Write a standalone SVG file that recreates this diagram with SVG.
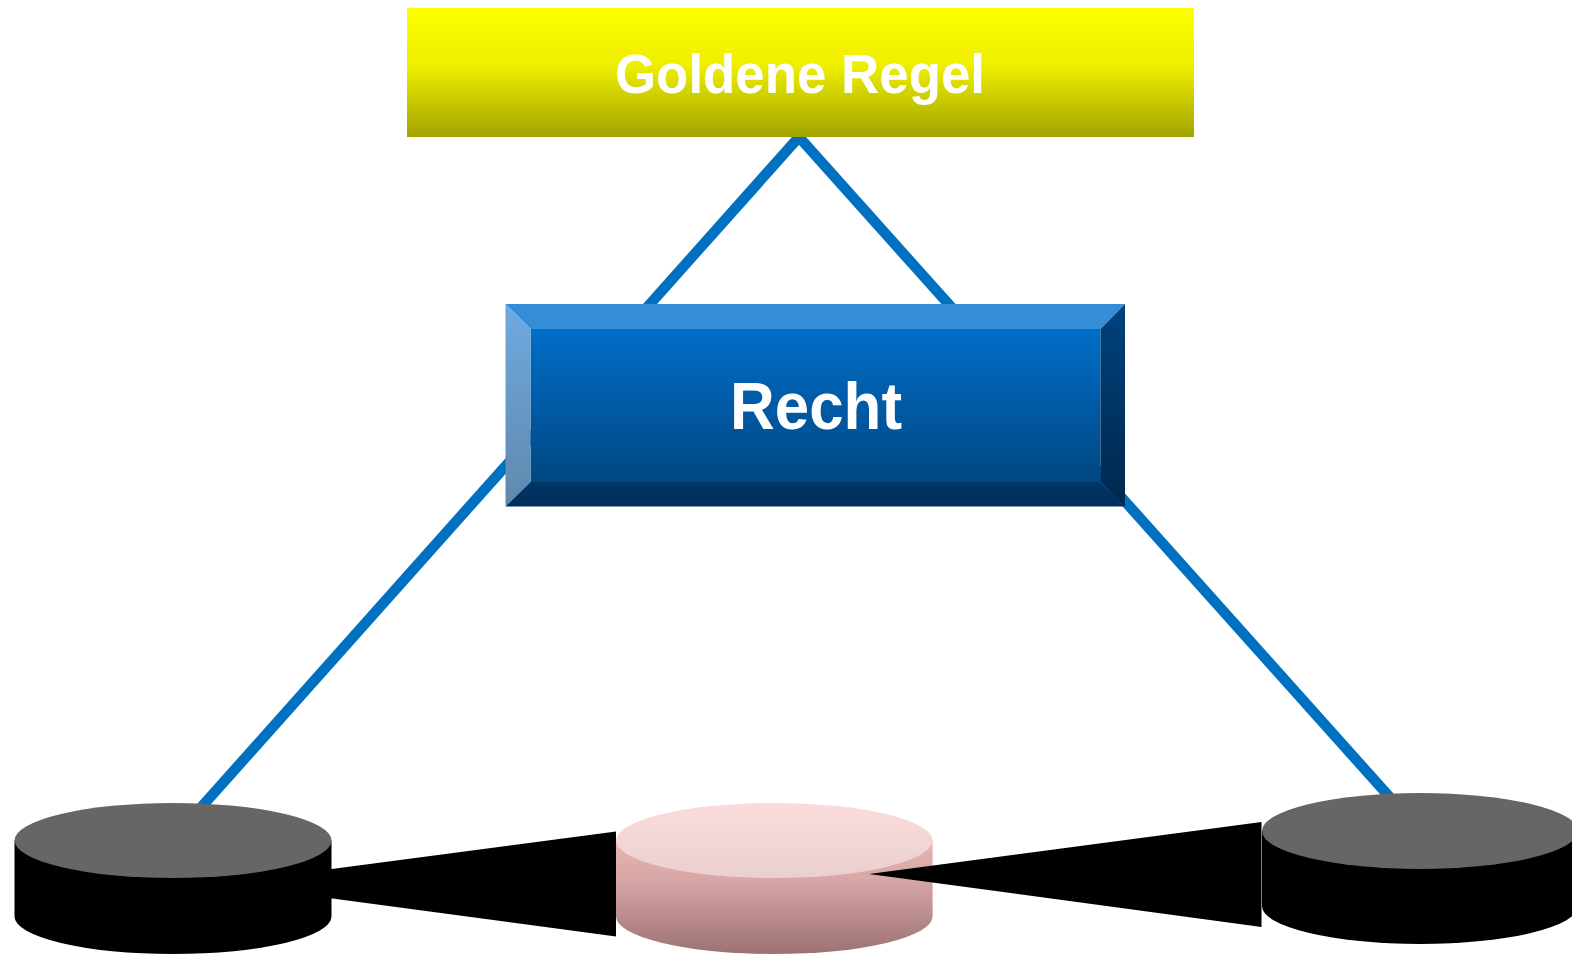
<svg xmlns="http://www.w3.org/2000/svg" width="1572" height="954" viewBox="0 0 1572 954">
<defs>
<style>
.lbl{font-family:"Liberation Sans",Arial,Helvetica,sans-serif;font-weight:bold;fill:#FFFFFF;text-anchor:middle}
.link{stroke:#0070C0;stroke-width:10.5;fill:none}
.wedge{fill:#000000}
.gtop{fill:#666666}
.gbody{fill:#000000}
</style>
<linearGradient id="gYellow" x1="0" y1="0" x2="0" y2="1">
<stop offset="0" stop-color="#FFFF00"/>
<stop offset="0.45" stop-color="#EEEE00"/>
<stop offset="1" stop-color="#A3A300"/>
</linearGradient>
<linearGradient id="gFace" x1="0" y1="0" x2="0" y2="1">
<stop offset="0" stop-color="#006EC8"/>
<stop offset="1" stop-color="#004783"/>
</linearGradient>
<linearGradient id="gLeft" x1="0" y1="0" x2="0" y2="1">
<stop offset="0" stop-color="#6EAAE0"/>
<stop offset="1" stop-color="#6088AC"/>
</linearGradient>
<linearGradient id="gRight" x1="0" y1="0" x2="0" y2="1">
<stop offset="0" stop-color="#00427C"/>
<stop offset="1" stop-color="#00284E"/>
</linearGradient>
<linearGradient id="gBottom" x1="0" y1="0" x2="0" y2="1">
<stop offset="0" stop-color="#003669"/>
<stop offset="1" stop-color="#002D59"/>
</linearGradient>
<linearGradient id="gPinkTop" x1="0" y1="0" x2="0" y2="1">
<stop offset="0" stop-color="#FBDCDC"/>
<stop offset="1" stop-color="#EBCFCF"/>
</linearGradient>
<linearGradient id="gPinkBody" gradientUnits="userSpaceOnUse" x1="0" y1="840" x2="0" y2="954">
<stop offset="0" stop-color="#E8B4B4"/>
<stop offset="0.35" stop-color="#D8A6A6"/>
<stop offset="1" stop-color="#9C7272"/>
</linearGradient>
</defs>

<g id="node-mid-cylinder">
<path d="M616,840.5 V916.5 A158.3,37.5 0 0 0 932.6,916.5 V840.5 Z" fill="url(#gPinkBody)"/>
<ellipse cx="774.3" cy="840.5" rx="158.3" ry="37.5" fill="url(#gPinkTop)"/>
</g>

<g id="connectors">
<line class="link" x1="799" y1="137" x2="172" y2="840"/>
<line class="link" x1="799" y1="137" x2="1420" y2="831"/>
<polygon class="wedge" points="221,883.5 616,831.5 616,936.5"/>
<polygon class="wedge" points="869,874 1261.5,822 1261.5,927"/>
</g>

<g id="node-goldene-regel">
<rect x="407" y="8" width="787" height="129" fill="url(#gYellow)"/>
<text class="lbl" x="800" y="92.5" font-size="56" textLength="370" lengthAdjust="spacingAndGlyphs">Goldene Regel</text>
</g>

<g id="node-recht">
<rect x="530.5" y="329" width="570" height="153" fill="url(#gFace)"/>
<polygon points="505.5,304 1125,304 1100.5,329 530.5,329" fill="#358CD7"/>
<polygon points="505.5,304 530.5,329 530.5,482 505.5,506.5" fill="url(#gLeft)"/>
<polygon points="1125,304 1125,506.5 1100.5,482 1100.5,329" fill="url(#gRight)"/>
<polygon points="505.5,506.5 530.5,482 1100.5,482 1125,506.5" fill="url(#gBottom)"/>
<text class="lbl" x="816" y="429" font-size="66" textLength="172" lengthAdjust="spacingAndGlyphs">Recht</text>
</g>

<g id="node-left-cylinder">
<path class="gbody" d="M14.5,840.5 V916.5 A158.5,37.5 0 0 0 331.5,916.5 V840.5 Z"/>
<ellipse class="gtop" cx="173" cy="840.5" rx="158.5" ry="37.5"/>
</g>

<g id="node-right-cylinder">
<path class="gbody" d="M1262,831 V906 A158,38 0 0 0 1578,906 V831 Z"/>
<ellipse class="gtop" cx="1420" cy="831" rx="158" ry="38"/>
</g>
</svg>
